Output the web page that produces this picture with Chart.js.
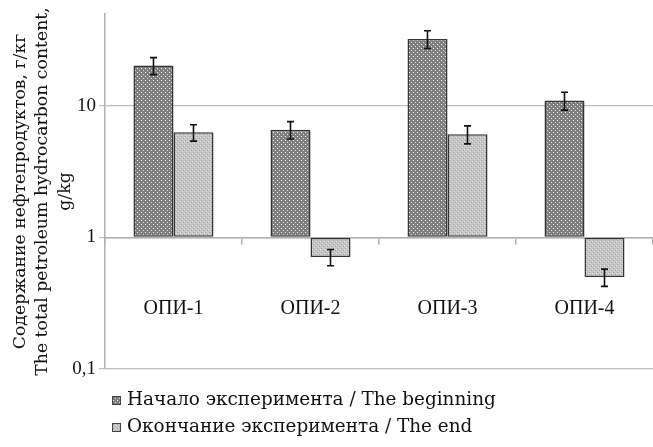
<!DOCTYPE html>
<html>
<head>
<meta charset="utf-8">
<script src="https://cdn.jsdelivr.net/npm/chart.js@4.4.1/dist/chart.umd.min.js"></script>
<style>
  html, body { margin: 0; padding: 0; background: #fff; }
</style>
</head>
<body>
<canvas id="barChart" width="653" height="447"></canvas>
<script>
// Petroleum hydrocarbon content per test plot, g/kg (log scale)
const categories = ['ОПИ-1', 'ОПИ-2', 'ОПИ-3', 'ОПИ-4'];
const seriesLabels = ['Начало эксперимента / The beginning', 'Окончание эксперимента / The end'];
const startValues = [20.3, 6.6, 32.3, 11.0];
const startErrors = [3.0, 1.0, 5.0, 1.7];
const endValues = [6.3, 0.71, 6.1, 0.50];
const endErrors = [0.9, 0.1, 0.95, 0.075];
const yTicks = [0.1, 1, 10];

// Small dotted fills for the two series
const makePattern = (base, dots) => {
    const c = document.createElement('canvas');
    c.width = 4; c.height = 4;
    const p = c.getContext('2d');
    p.fillStyle = base;
    p.fillRect(0, 0, 4, 4);
    dots.forEach(([x, y, col]) => {
        p.fillStyle = col;
        p.fillRect(x, y, 1, 1);
    });
    return p.createPattern(c, 'repeat');
};

const darkFill = makePattern('#808080', [[1, 0, '#f4f4f4'], [3, 2, '#dedede'], [0, 1, '#747474'], [2, 3, '#747474']]);
const lightFill = makePattern('#c6c6c6', [[1, 0, '#a0a0a0'], [3, 2, '#a4a4a4'], [0, 1, '#e6e6e6'], [2, 3, '#dcdcdc']]);

// Error bars drawn on top of every bar
const errorBarPlugin = {
    id: 'errorBars',
    afterDatasetsDraw(chart) {
        const ctx = chart.ctx;
        const yScale = chart.scales.y;
        ctx.save();
        ctx.strokeStyle = '#111';
        ctx.lineWidth = 1.6;
        chart.data.datasets.forEach((ds, i) => {
            chart.getDatasetMeta(i).data.forEach((bar, j) => {
                const v = ds.data[j];
                const e = ds.errors[j];
                const top = yScale.getPixelForValue(v + e);
                const bottom = yScale.getPixelForValue(v - e);
                ctx.beginPath();
                ctx.moveTo(bar.x, top); ctx.lineTo(bar.x, bottom);
                ctx.moveTo(bar.x - 3.5, top); ctx.lineTo(bar.x + 3.5, top);
                ctx.moveTo(bar.x - 3.5, bottom); ctx.lineTo(bar.x + 3.5, bottom);
                ctx.stroke();
            });
        });
        ctx.restore();
    }
};

// Legend in two rows under the plot, left aligned
const bottomLegendPlugin = {
    id: 'bottomLegend',
    afterDraw(chart) {
        const ctx = chart.ctx;
        const startY = chart.chartArea.bottom + 31.5;
        ctx.save();
        ctx.font = '18.4px "DejaVu Serif"';
        ctx.textBaseline = 'middle';
        chart.data.datasets.forEach((ds, i) => {
            const y = startY + i * 27;
            ctx.fillStyle = ds.backgroundColor;
            ctx.fillRect(112, y - 4.5, 9, 9);
            ctx.strokeStyle = '#444';
            ctx.lineWidth = 1;
            ctx.strokeRect(112.5, y - 4, 8, 8);
            ctx.fillStyle = '#111';
            ctx.fillText(ds.label, 127, y);
        });
        ctx.restore();
    }
};

const ctxBar = document.getElementById('barChart').getContext('2d');

new Chart(ctxBar, {
    type: 'bar',
    data: {
        labels: categories,
        datasets: [
            { label: seriesLabels[0], data: startValues, errors: startErrors, backgroundColor: darkFill },
            { label: seriesLabels[1], data: endValues, errors: endErrors, backgroundColor: lightFill }
        ]
    },
    options: {
        responsive: false,
        animation: false,
        layout: { padding: { top: 14, right: 0, bottom: 78, left: 0 } },
        datasets: {
            bar: {
                base: 1,
                borderColor: '#333',
                borderWidth: 1.5,
                borderSkipped: false,
                categoryPercentage: 0.584,
                barPercentage: 1
            }
        },
        plugins: {
            legend: { display: false },
            tooltip: { enabled: false }
        },
        scales: {
            x: {
                position: { y: 1 },
                offset: true,
                afterFit: (scale) => { scale.paddingLeft = 0; scale.paddingRight = 0; },
                grid: { offset: true, drawOnChartArea: false, tickLength: 6, color: '#b0b0b0', lineWidth: 1.5 },
                border: { color: '#b0b0b0', width: 1.5 },
                ticks: {
                    padding: 53,
                    color: '#111',
                    font: { family: 'Liberation Serif', size: 20 }
                }
            },
            y: {
                type: 'logarithmic',
                min: 0.1,
                max: 50,
                afterFit: (scale) => { scale.width = 105; scale.paddingTop = 0; scale.paddingBottom = 0; },
                afterBuildTicks: (scale) => { scale.ticks = yTicks.map(v => ({ value: v })); },
                grid: { color: '#bdbdbd', lineWidth: 1.2, tickLength: 6 },
                border: { color: '#b0b0b0', width: 1.5 },
                ticks: {
                    padding: 3,
                    color: '#111',
                    font: { family: 'Liberation Serif', size: 19 },
                    callback: (v) => String(v).replace('.', ',')
                },
                title: {
                    display: true,
                    text: ['Содержание нефтепродуктов, г/кг', 'The total petroleum hydrocarbon content,', 'g/kg'],
                    color: '#111',
                    font: { family: 'DejaVu Serif', size: 17.3, lineHeight: 1.3 },
                    padding: { top: 9, bottom: 0 }
                }
            }
        }
    },
    plugins: [errorBarPlugin, bottomLegendPlugin]
});
</script>
</body>
</html>
